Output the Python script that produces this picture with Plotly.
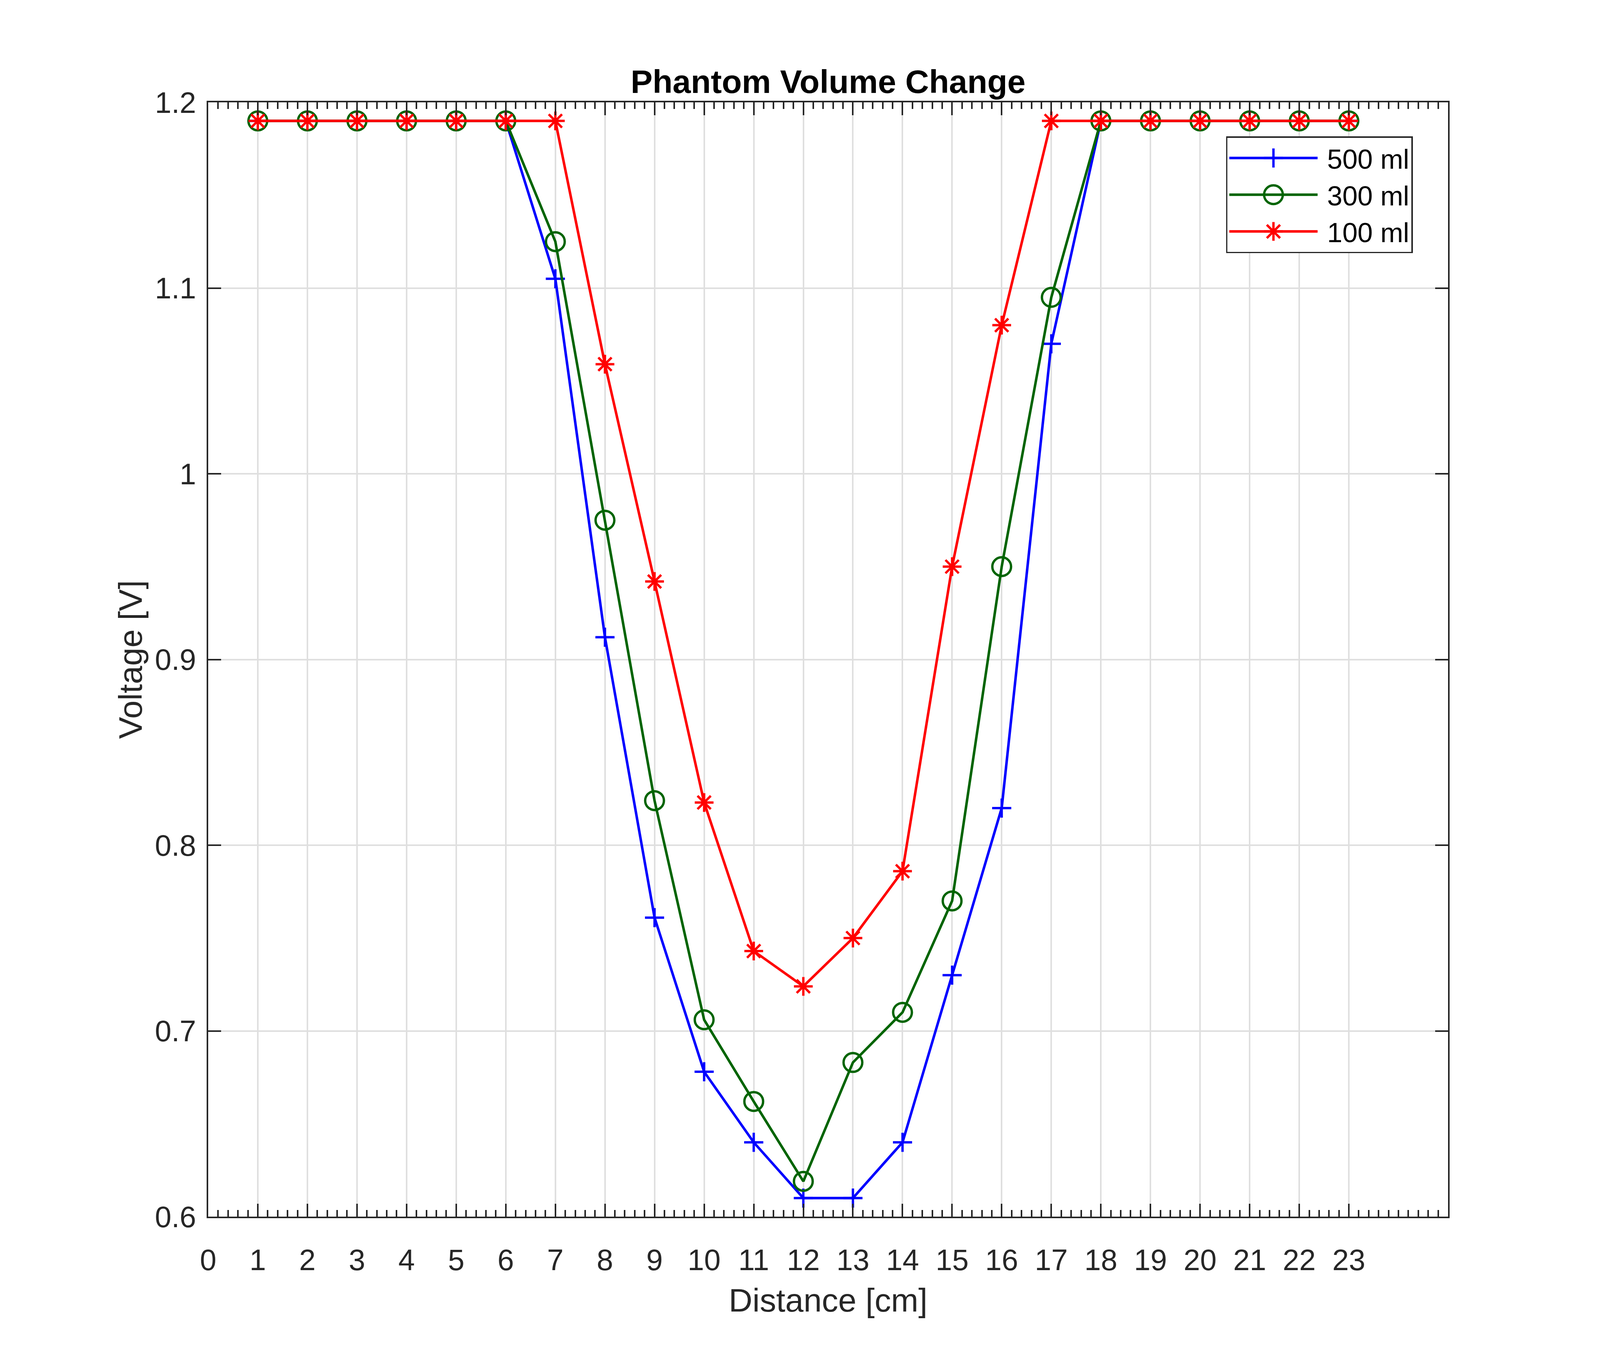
import json
import plotly.graph_objects as go

# distance along the phantom [cm]
distance = list(range(1, 24))

# measured voltage [V] for each phantom volume
v_500 = [1.19, 1.19, 1.19, 1.19, 1.19, 1.19, 1.105, 0.912, 0.761, 0.678, 0.64, 0.61,
         0.61, 0.64, 0.73, 0.82, 1.07, 1.19, 1.19, 1.19, 1.19, 1.19, 1.19]
v_300 = [1.19, 1.19, 1.19, 1.19, 1.19, 1.19, 1.125, 0.975, 0.824, 0.706, 0.662, 0.619,
         0.683, 0.71, 0.77, 0.95, 1.095, 1.19, 1.19, 1.19, 1.19, 1.19, 1.19]
v_100 = [1.19, 1.19, 1.19, 1.19, 1.19, 1.19, 1.19, 1.059, 0.942, 0.823, 0.743, 0.724,
         0.75, 0.786, 0.95, 1.08, 1.19, 1.19, 1.19, 1.19, 1.19, 1.19, 1.19]

x_ticks = list(range(0, 24))
y_ticks = [0.6, 0.7, 0.8, 0.9, 1.0, 1.1, 1.2]
y_labels = ["0.6", "0.7", "0.8", "0.9", "1", "1.1", "1.2"]

FONT = "Liberation Sans, Arial, Helvetica, sans-serif"
AX = "#262626"
GRID = "#DFDFDF"

# the browser viewport is 4096 wide, so the page is drawn at that size
W, H = 4080, 3484

series = [
    ("500 ml", v_500, "#0000FF", "cross-thin-open", 35),
    ("300 ml", v_300, "#006400", "circle-open", 48),
    ("100 ml", v_100, "#FF0000", "asterisk-open", 40),
]

fig = go.Figure()
for name, vals, col, sym, ms in series:
    fig.add_trace(go.Scatter(
        x=distance, y=vals, name="\u00a0" + name, mode="lines+markers",
        line=dict(color=col, width=6.5),
        marker=dict(symbol=sym, size=ms, color=col, line=dict(color=col, width=6)),
    ))

fig.update_layout(
    width=W, height=H,
    margin=dict(l=525, r=381, t=254, b=377),
    paper_bgcolor="white", plot_bgcolor="white",
    font=dict(family=FONT, size=76, color=AX),
    title=dict(text="<b>Phantom Volume Change</b>", x=0.5, xref="paper",
               y=1, yref="paper", yanchor="bottom", xanchor="center",
               pad=dict(b=24), font=dict(size=84, color="black")),
    legend=dict(x=0.9715, y=0.9695, xanchor="right", yanchor="top",
                bgcolor="white", bordercolor=AX, borderwidth=3.5,
                font=dict(size=70, color="black"), itemwidth=226,
                tracegroupgap=0),
    showlegend=True,
)

fig.update_xaxes(
    range=[0, 25], tickvals=x_ticks, ticktext=[str(t) for t in x_ticks],
    ticks="inside", ticklen=33, tickwidth=3.5, tickcolor=AX,
    showline=True, linecolor=AX, linewidth=3.5, mirror="ticks",
    showgrid=True, gridcolor=GRID, gridwidth=4, zeroline=False,
    ticklabelstandoff=42,
    minor=dict(dtick=0.2, ticks="inside", ticklen=17, tickwidth=3.5,
               tickcolor=AX, showgrid=False),
    title=dict(text="Distance [cm]", font=dict(size=84, color=AX), standoff=33),
)
fig.update_yaxes(
    range=[0.6, 1.2], tickvals=y_ticks, ticktext=y_labels,
    ticks="inside", ticklen=33, tickwidth=3.5, tickcolor=AX,
    showline=True, linecolor=AX, linewidth=3.5, mirror="ticks",
    showgrid=True, gridcolor=GRID, gridwidth=4, zeroline=False,
    ticklabelstandoff=12,
    title=dict(text="Voltage [V]", font=dict(size=84, color=AX), standoff=6),
)

# plotly caps legend markers at 16px; blow them back up to the trace size
scales = json.dumps([s[4] / 16.0 for s in series])
js = """
var gd = document.getElementsByClassName('plotly-graph-div')[0];
var k = %s;
function bigLegendMarkers() {
  var items = gd.querySelectorAll('.legend .traces');
  items.forEach(function(it, i) {
    it.querySelectorAll('.legendpoints path.scatterpts').forEach(function(p) {
      var t = p.getAttribute('transform') || '';
      if (t.indexOf('scale') < 0) {
        p.setAttribute('transform', t + ' scale(' + k[i] + ')');
        p.style.strokeWidth = (6 / k[i]) + 'px';
      }
    });
  });
}
bigLegendMarkers();
gd.on('plotly_afterplot', bigLegendMarkers);
""" % scales

fig.write_html("out.html", post_script=js)
